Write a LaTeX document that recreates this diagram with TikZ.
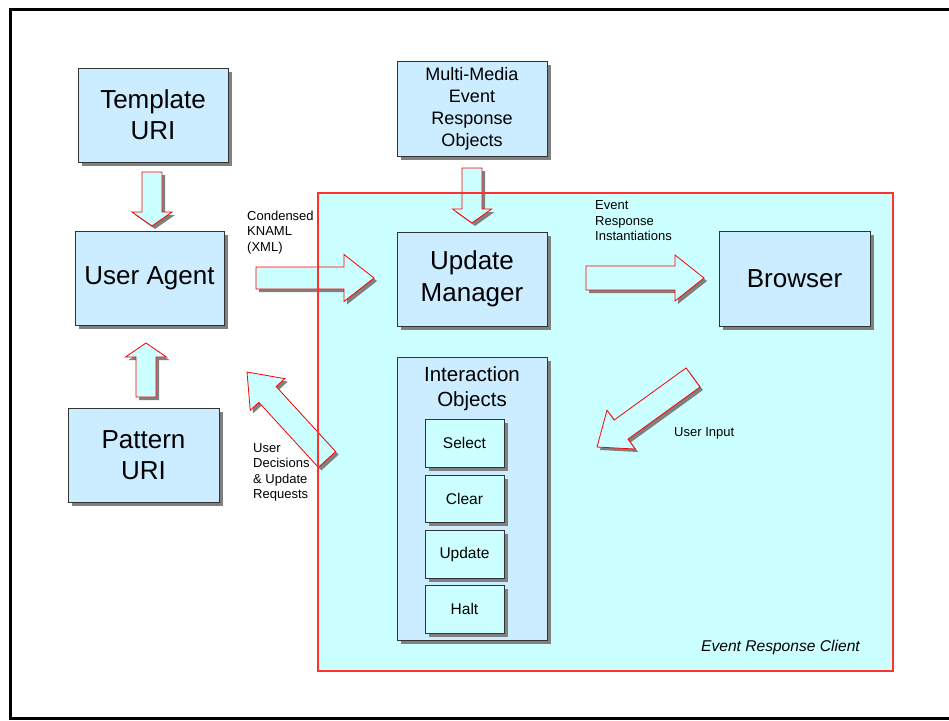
\documentclass[tikz,border=0pt]{standalone}
\usepackage{fontspec}
\setmainfont{Liberation Sans}
\usetikzlibrary{calc,shadows}
\definecolor{boxblue}{HTML}{CCECFF}
\definecolor{cyanfill}{HTML}{CCFFFF}
\definecolor{shadowgray}{HTML}{808080}
\definecolor{ercred}{HTML}{FF3030}
\definecolor{boxline}{HTML}{333333}
\tikzset{
  box/.style={draw=boxline, line width=0.9pt, fill=boxblue, inner sep=0pt, align=center,
    drop shadow={shadow xshift=4pt, shadow yshift=-4pt, fill=shadowgray, opacity=1}},
  subbox/.style={box, fill=cyanfill, minimum width=79pt, minimum height=48pt,
    font=\fontsize{15.5}{18}\selectfont},
  bigtext/.style={font=\fontsize{26}{31}\selectfont},
  midtext/.style={font=\fontsize{18}{22}\selectfont},
  smalllabel/.style={font=\fontsize{13}{15.5}\selectfont, align=left, inner sep=0pt, anchor=west},
  barrowstyle/.style={draw=red, line width=0.8pt, fill=cyanfill, line join=miter},
}
\newcommand\blockarrow[5]{%
  \coordinate (ba-h) at ($(#2)!#5pt!(#1)$);
  \coordinate (ba-1) at ($(#1)!#3pt!90:(#2)$);
  \coordinate (ba-2) at ($(ba-h)!#3pt!90:(#2)$);
  \coordinate (ba-3) at ($(ba-h)!#4pt!90:(#2)$);
  \coordinate (ba-4) at ($(ba-h)!#4pt!-90:(#2)$);
  \coordinate (ba-5) at ($(ba-h)!#3pt!-90:(#2)$);
  \coordinate (ba-6) at ($(#1)!#3pt!-90:(#2)$);
  \fill[shadowgray] ([xshift=3pt,yshift=-3pt]ba-1) -- ([xshift=3pt,yshift=-3pt]ba-2)
    -- ([xshift=3pt,yshift=-3pt]ba-3) -- ([xshift=3pt,yshift=-3pt]#2)
    -- ([xshift=3pt,yshift=-3pt]ba-4) -- ([xshift=3pt,yshift=-3pt]ba-5)
    -- ([xshift=3pt,yshift=-3pt]ba-6) -- cycle;
  \draw[barrowstyle] (ba-1) -- (ba-2) -- (ba-3) -- (#2) -- (ba-4) -- (ba-5) -- (ba-6) -- cycle;
}
\begin{document}
\begin{tikzpicture}[x=1pt,y=-1pt]
\useasboundingbox (0,0) rectangle (949,720);
% outer frame
\draw[line width=3pt] (949,9.7) -- (10.8,9.7) -- (10.8,718.5) -- (949,718.5);
% event response client region
\fill[cyanfill] (318,193) rectangle (893,671);

% boxes
\node[box, bigtext, minimum width=150pt, minimum height=94pt] (tpl) at (153,115) {Template\\URI};
\node[box, bigtext, minimum width=149pt, minimum height=94pt] (ua) at (149.5,278) {User Agent};
\node[box, bigtext, minimum width=151pt, minimum height=94pt] (pat) at (143.5,455) {Pattern\\URI};
\node[box, midtext, minimum width=150pt, minimum height=95pt] (mm) at (472,108.5) {Multi-Media\\Event\\Response\\Objects};
\node[box, font=\fontsize{26}{32}\selectfont, minimum width=150pt, minimum height=94pt] (um) at (472,279) {Update\\Manager};
\node[box, bigtext, minimum width=151pt, minimum height=95pt] (br) at (794.5,278.5) {Browser};
\node[box, minimum width=150pt, minimum height=283pt] (io) at (472,498.5) {};
\node[font=\fontsize{20.5}{25}\selectfont, align=center, inner sep=0pt] (iot) at (472,388.5) {Interaction\\Objects};
\node[subbox] (sel) at (464.5,443) {Select};
\node[subbox, minimum height=47pt] (clr) at (464.5,498.5) {Clear};
\node[subbox] (upd) at (464.5,554) {Update};
\node[subbox] (hlt) at (464.5,609) {Halt};

% arrow end points
\coordinate (a1s) at (152,172);   \coordinate (a1t) at (152,226);
\coordinate (a2s) at (146,397);   \coordinate (a2t) at (146,343);
\coordinate (a3s) at (472,168);   \coordinate (a3t) at (472,223);
\coordinate (a4s) at (256,278);   \coordinate (a4t) at (374,278);
\coordinate (a5s) at (586,278);   \coordinate (a5t) at (704,278);
\coordinate (a6s) at (327,459.5); \coordinate (a6t) at (247,372);
\coordinate (a7s) at (693,377.5); \coordinate (a7t) at (597,447);

\blockarrow{a1s}{a1t}{10}{20}{14}
\blockarrow{a2s}{a2t}{10}{20.5}{14}
\blockarrow{a3s}{a3t}{10}{19.5}{14}
\blockarrow{a4s}{a4t}{11}{23.5}{30}
\blockarrow{a5s}{a5t}{12}{23}{29}
\blockarrow{a6s}{a6t}{11.7}{23.4}{30.4}
\blockarrow{a7s}{a7t}{11.8}{24}{29.7}

% region border on top
\draw[ercred, line width=1.1pt] (318,193) rectangle (893,671);

% labels
\node[smalllabel] (lck) at (247,232.5) {Condensed\\KNAML\\(XML)};
\node[smalllabel] (leri) at (595,221) {Event\\Response\\Instantiations};
\node[smalllabel] (ludr) at (253,472.5) {User\\Decisions\\\& Update\\Requests};
\node[smalllabel] (lui) at (674,433) {User Input};
\node[font=\fontsize{15.6}{18}\selectfont\itshape, inner sep=0pt, anchor=east] (lerc) at (860,647) {Event Response Client};
\end{tikzpicture}
\end{document}
